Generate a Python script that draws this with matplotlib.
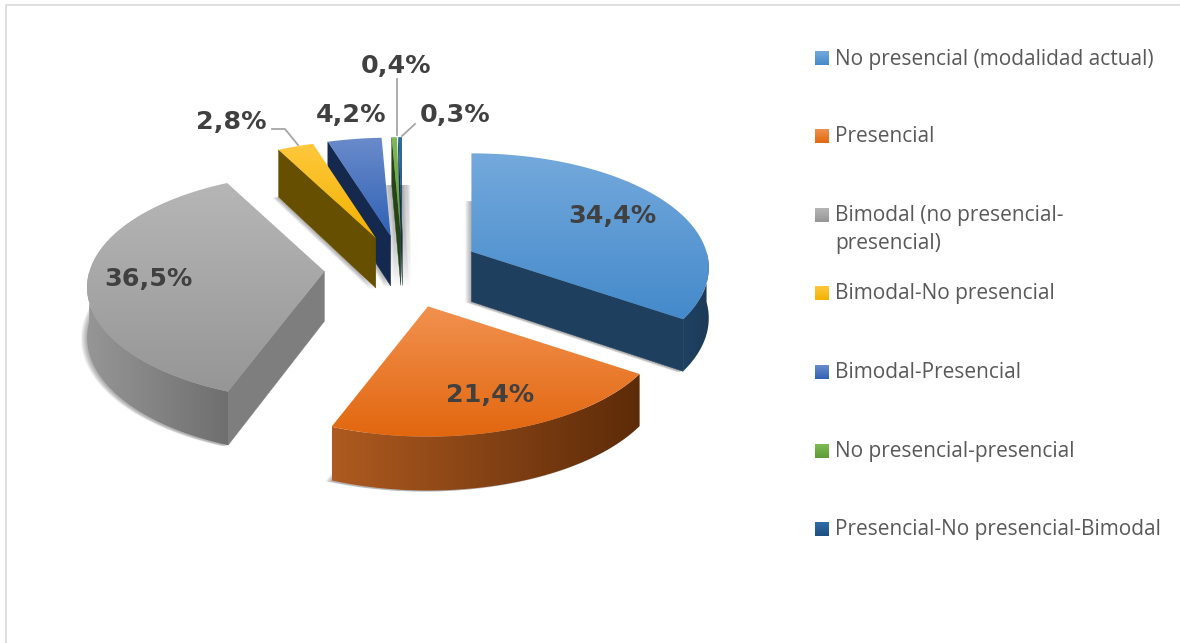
import numpy as np
import matplotlib
matplotlib.use("Agg")
import matplotlib.pyplot as plt
from matplotlib.colors import to_rgb
from matplotlib.patches import Polygon

# data
categories = ["No presencial (modalidad actual)", "Presencial", "Bimodal (no presencial-\npresencial)",
              "Bimodal-No presencial", "Bimodal-Presencial", "No presencial-presencial",
              "Presencial-No presencial-Bimodal"]
values = [34.4, 21.4, 36.5, 2.8, 4.2, 0.4, 0.3]
value_labels = ["34,4%", "21,4%", "36,5%", "2,8%", "4,2%", "0,4%", "0,3%"]

# style of each slice
explode = [0.33, 0.35, 0.335, 0.30, 0.30, 0.30, 0.30]
top_colors = [("#74A9DC", "#448ACB"), ("#F1914F", "#E2670F"), ("#B6B6B6", "#969696"),
              ("#FFC83D", "#F2B200"), ("#6A8BCB", "#2F62B5"), ("#7DBB57", "#5E9B35"), ("#2F6DA8", "#1D4E80")]
side_colors = [("#1F4263", "#1C3A57"), ("#AE5A20", "#5C2B08"), ("#969696", "#6F6F6F"),
               ("#6E5207", "#5F4700"), ("#26385F", "#12284F"), ("#2E4F1C", "#24421A"), ("#173655", "#123050")]
cut_colors = ["#1F3F5E", "#5C2B08", "#7E7E7E", "#665000", "#15294F", "#25421A", "#133050"]

# pie geometry, in pixels
cx, cy = 403, 269
rx, ry = 235, 112
persp = 0.14
depth = 50


def project(apex, x, y, drop=0.0):
    # x, y are measured from the slice apex on the unit disc
    w = 1 + persp * y
    ox = cx + rx * apex[0]
    oy = cy - ry * apex[1]
    return ox + rx * x / w, oy - ry * y / w + drop / np.sqrt(w)


def gradient_fill(ax, xs, ys, colors, vertical=True, z=1):
    # polygon filled with a two colour gradient
    c0, c1 = np.array(to_rgb(colors[0])), np.array(to_rgb(colors[1]))
    t = np.linspace(0, 1, 128)[:, None]
    img = c0 * (1 - t) + c1 * t
    img = img[:, None, :] if vertical else img[None, :, :]
    poly = Polygon(np.column_stack([xs, ys]), closed=True, transform=ax.transData,
                   facecolor="none", edgecolor="none")
    ax.add_patch(poly)
    im = ax.imshow(img, extent=(min(xs), max(xs), max(ys), min(ys)), aspect="auto",
                   interpolation="bilinear", zorder=z)
    im.set_clip_path(poly)


fig = plt.figure(figsize=(11.8, 6.43), dpi=100)
ax = fig.add_axes([0, 0, 1, 1])

# slices, from back to front
ends = np.cumsum(values) * 3.6
starts = ends - np.array(values) * 3.6
draw_order = [6, 5, 4, 3, 2, 0, 1]
for n, i in enumerate(draw_order):
    z = 10 + n * 5
    t0, t1 = np.radians(starts[i]), np.radians(ends[i])
    tm = (t0 + t1) / 2
    apex = (explode[i] * np.sin(tm), explode[i] * np.cos(tm))
    th = np.linspace(t0, t1, 200)
    arc_x, arc_y = np.sin(th), np.cos(th)

    # top face and bottom face
    tx, ty = project(apex, np.r_[0, arc_x], np.r_[0, arc_y])
    bx, by = project(apex, np.r_[0, arc_x], np.r_[0, arc_y], depth)

    # soft shadow under the bottom face, wider on the thin slices
    shifts = range(-8, 9) if values[i] < 1 else range(-6, 0)
    for dx in shifts:
        ax.fill(bx + dx, by + 1, color="#303030", alpha=0.07, lw=0, zorder=z)

    # cut faces
    for t_edge, sign in [(t0, -1), (t1, 1)]:
        if np.cos(t_edge + sign * np.pi / 2) < 0:
            ex, ey = np.sin(t_edge), np.cos(t_edge)
            x1, y1 = project(apex, np.array([0, ex]), np.array([0, ey]))
            x2, y2 = project(apex, np.array([ex, 0]), np.array([ey, 0]), depth)
            ax.fill(np.r_[x1, x2], np.r_[y1, y2], color=cut_colors[i], lw=0.3, zorder=z + 1)

    # outer wall, only where it faces the viewer
    keep = np.cos(th) < 0
    if keep.sum() > 1:
        wx1, wy1 = project(apex, arc_x[keep], arc_y[keep])
        wx2, wy2 = project(apex, arc_x[keep][::-1], arc_y[keep][::-1], depth)
        gradient_fill(ax, np.r_[wx1, wx2], np.r_[wy1, wy2], side_colors[i], vertical=False, z=z + 2)

    gradient_fill(ax, tx, ty, top_colors[i], z=z + 3)

# data labels
label_x = [612, 490, 148, 231, 351, 396, 455]
label_y = [216, 395, 279, 122, 115, 66, 115]
for x, y, s in zip(label_x, label_y, value_labels):
    ax.text(x, y, s, ha="center", va="center", fontsize=18.3, fontweight="bold",
            color="#404040", zorder=60)

# leader lines
ax.plot([272, 285, 298], [129, 129, 145], color="#A6A6A6", lw=1.3, zorder=61)
ax.plot([397, 397], [79, 135], color="#A6A6A6", lw=1.3, zorder=61)
ax.plot([415, 402], [124, 136], color="#A6A6A6", lw=1.3, zorder=61)

# legend
legend_y = [58, 136, 215, 293, 372, 451, 529]
for y, s, c in zip(legend_y, categories, top_colors):
    xs = np.array([815, 829, 829, 815])
    ys = np.array([y - 7, y - 7, y + 7, y + 7])
    gradient_fill(ax, xs, ys, c, z=60)
    for k, part in enumerate(s.split("\n")):
        ax.text(835, y + 1 + k * 28, part, ha="left", va="center", fontsize=15,
                family="Open Sans", color="#595959", zorder=60)

# chart frame
ax.plot([6, 6, 1180], [643, 5, 5], color="#D9D9D9", lw=1.2, zorder=1)

ax.set_xlim(0, 1180)
ax.set_ylim(643, 0)
ax.axis("off")
fig.savefig("out.png", dpi=100)
